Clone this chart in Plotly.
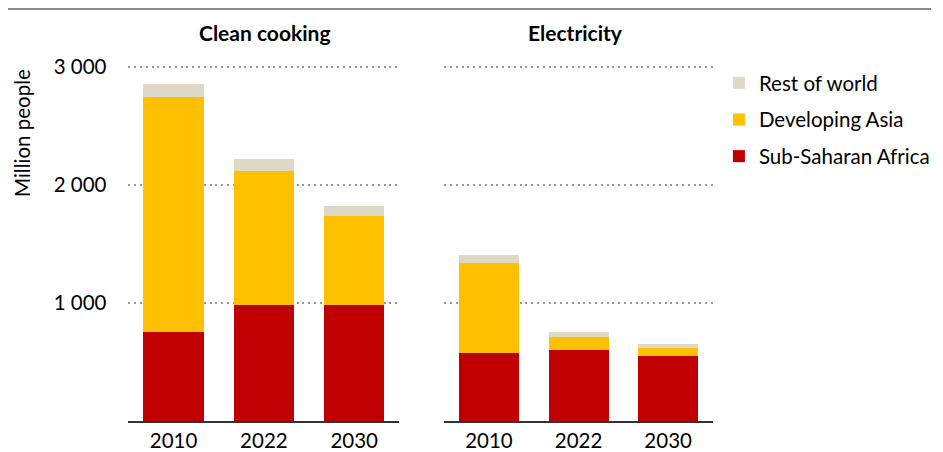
import plotly.graph_objects as go

years = ["2010", "2022", "2030"]
cooking_ssa = [756, 980, 982]
cooking_asia = [1987, 1137, 754]
cooking_row = [110, 104, 87]
elec_ssa = [578, 599, 548]
elec_asia = [760, 112, 73]
elec_row = [65, 43, 28]

series_names = ["Sub-Saharan Africa", "Developing Asia", "Rest of world"]
colors = ["#C00000", "#FFC000", "#DDD9C4"]
yticks = [1000, 2000, 3000]
yticklabels = ["1 000", "2 000", "3 000"]

FONT = "Lato"
OFF = 8  # page body margin
W, H = 943 - 2 * OFF, 452 - OFF

fig = go.Figure()
cook = [cooking_ssa, cooking_asia, cooking_row]
elec = [elec_ssa, elec_asia, elec_row]
for i, name in enumerate(series_names):
    fig.add_trace(go.Bar(x=years, y=cook[i], name=name, marker_color=colors[i],
                         marker_line_width=0, xaxis="x", yaxis="y",
                         legendgroup=name, legendrank=3 - i))
    fig.add_trace(go.Bar(x=years, y=elec[i], name=name, marker_color=colors[i],
                         marker_line_width=0, xaxis="x2", yaxis="y2",
                         legendgroup=name, showlegend=False))

def px_x(p):
    return (p - OFF) / W

def px_y(p):
    return (H - (p - OFF)) / H

YMAX = 3050
ppu = (421 - 66.7) / 3000
ytop_px = 421 - YMAX * ppu
ydom = [px_y(421), px_y(ytop_px)]
common_x = dict(type="category", showline=True, linecolor="#333333", linewidth=1.5,
                showgrid=False, ticks="", tickfont=dict(family=FONT, size=20.5, color="#000"),
                ticklabelstandoff=1, automargin=False)
common_y = dict(range=[0, YMAX], tickvals=yticks, showline=False, zeroline=False,
                showgrid=True, gridcolor="#9a9a9a", griddash="2px,3.8px", gridwidth=2,
                ticks="", automargin=False)

fig.update_layout(
    width=W, height=H,
    margin=dict(l=0, r=0, t=0, b=0),
    paper_bgcolor="white", plot_bgcolor="white",
    barmode="stack", bargap=0.33,
    font=dict(family=FONT, size=20.5, color="#000"),
    xaxis=dict(domain=[px_x(129), px_x(401)], anchor="y", **common_x),
    xaxis2=dict(domain=[px_x(446), px_x(716)], anchor="y2", **common_x),
    yaxis=dict(domain=ydom, anchor="x", ticktext=yticklabels, showticklabels=True,
               ticklabelstandoff=21, tickfont=dict(family=FONT, size=20.5, color="#000"),
               **common_y),
    yaxis2=dict(domain=ydom, anchor="x2", showticklabels=False, matches="y", **common_y),
    legend=dict(x=px_x(722), y=px_y(63), xanchor="left", yanchor="top",
                font=dict(family=FONT, size=20.5, color="#000"),
                tracegroupgap=7, bgcolor="rgba(0,0,0,0)"),
    showlegend=True,
)

fig.add_shape(type="line", xref="paper", yref="paper", x0=0, x1=1, y0=px_y(9), y1=px_y(9),
              line=dict(color="#8c8c8c", width=2))

fig.add_annotation(text="<b>Clean cooking</b>", x=px_x(266), y=px_y(33), xref="paper", yref="paper",
                   showarrow=False, font=dict(family=FONT, size=21, color="#000"),
                   xanchor="center", yanchor="middle")
fig.add_annotation(text="<b>Electricity</b>", x=px_x(578), y=px_y(33), xref="paper", yref="paper",
                   showarrow=False, font=dict(family=FONT, size=21, color="#000"),
                   xanchor="center", yanchor="middle")
fig.add_annotation(text="Million people", x=px_x(22), y=px_y(133), xref="paper", yref="paper",
                   showarrow=False, textangle=-90, font=dict(family=FONT, size=20.5, color="#000"),
                   xanchor="center", yanchor="middle")

fig.write_html("out.html")
